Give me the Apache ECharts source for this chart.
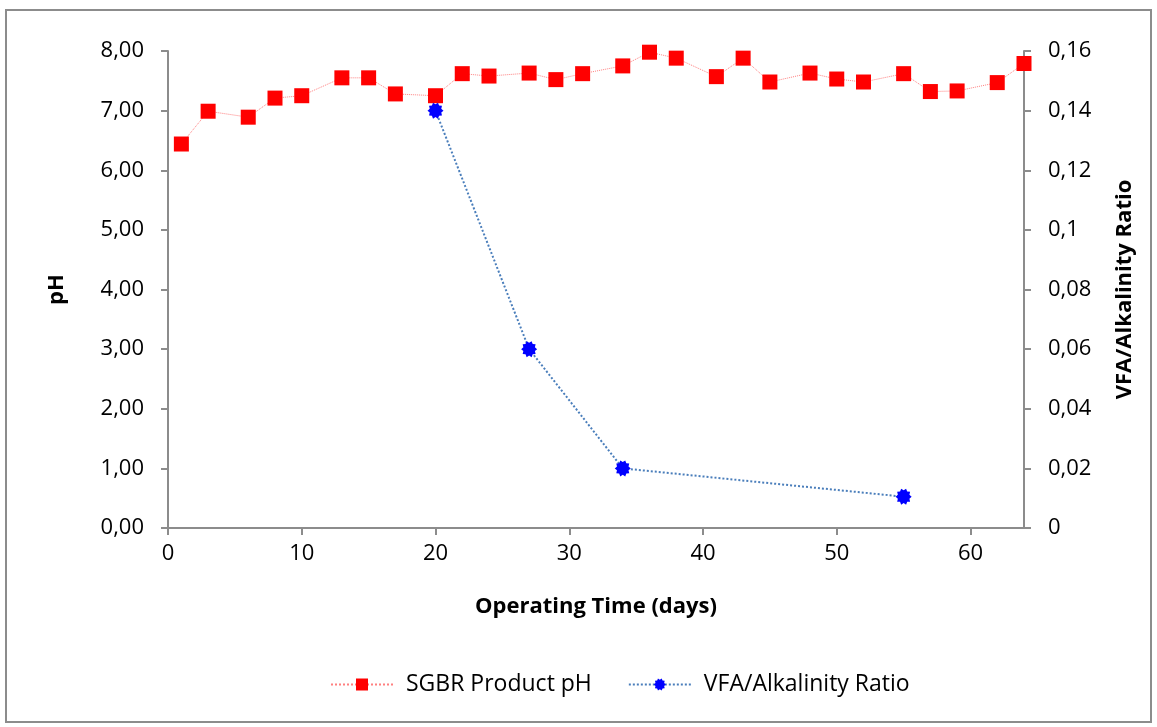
<!DOCTYPE html>
<html><head><meta charset="utf-8">
<script src="https://cdn.jsdelivr.net/npm/echarts@6/dist/echarts.min.js"></script>
<style>html,body{margin:0;padding:0;background:#fff}#c{width:1157px;height:727px}</style>
</head><body><div id="c"></div>
<script>
const phDays = [1,3,6,8,10,13,15,17,20,22,24,27,29,31,34,36,38,41,43,45,48,50,52,55,57,59,62,64];
const phValues = [6.44,6.99,6.89,7.21,7.25,7.55,7.55,7.28,7.25,7.62,7.58,7.63,7.52,7.62,7.75,7.98,7.88,7.57,7.88,7.48,7.63,7.53,7.48,7.62,7.32,7.33,7.47,7.79];
const vfaDays = [20,27,34,55];
const vfaValues = [0.14,0.06,0.02,0.0105];
const xTicks = {min:0, max:64, interval:10};
const leftTicks = {min:0, max:8, interval:1};
const rightTicks = {min:0, max:0.16, interval:0.02};

const FONT = '"Open Sans", "Liberation Sans", sans-serif';
const gear = (function(){
  let pts=[]; const n=10;
  for(let i=0;i<n*2;i++){const r=i%2?7.6:10; const a=Math.PI*i/n; pts.push((10+r*Math.cos(a)).toFixed(2)+' '+(10+r*Math.sin(a)).toFixed(2));}
  return 'path://M'+pts.join(' L')+' Z';
})();

const chart = echarts.init(document.getElementById('c'));
chart.setOption({
  animation:false,
  backgroundColor:'#fff',
  graphic:[{type:'rect',shape:{x:6,y:10,width:1145,height:712},style:{fill:'none',stroke:'#8c8c8c',lineWidth:2},silent:true}],
  grid:{left:168,right:133,top:51,bottom:199},
  legend:{
    bottom:26,left:325,itemWidth:62,itemHeight:15,itemGap:36,
    textStyle:{fontFamily:FONT,fontSize:23,color:'#000',padding:[0,0,0,8]},
    data:['SGBR Product pH','VFA/Alkalinity Ratio']
  },
  xAxis:{
    type:'value',min:xTicks.min,max:xTicks.max,interval:xTicks.interval,
    name:'Operating Time (days)',nameLocation:'middle',nameGap:68,
    nameTextStyle:{fontFamily:FONT,fontSize:22,fontWeight:'bold',color:'#000'},
    axisLine:{show:true,lineStyle:{color:'#8c8c8c',width:2}},
    axisTick:{show:true,length:7,lineStyle:{color:'#8c8c8c',width:2}},
    axisLabel:{fontFamily:FONT,fontSize:22,color:'#000',margin:15,showMaxLabel:false},
    splitLine:{show:false}
  },
  yAxis:[{
    type:'value',min:leftTicks.min,max:leftTicks.max,interval:leftTicks.interval,position:'left',
    name:'pH',nameLocation:'middle',nameGap:100,nameRotate:90,
    nameTextStyle:{fontFamily:FONT,fontSize:22,fontWeight:'bold',color:'#000'},
    axisLine:{show:true,lineStyle:{color:'#8c8c8c',width:2}},
    axisTick:{show:true,length:7,lineStyle:{color:'#8c8c8c',width:2}},
    axisLabel:{fontFamily:FONT,fontSize:22,color:'#000',margin:24,formatter:v=>v.toFixed(2).replace('.',',')},
    splitLine:{show:false}
  },{
    type:'value',min:rightTicks.min,max:rightTicks.max,interval:rightTicks.interval,position:'right',
    name:'VFA/Alkalinity Ratio',nameLocation:'middle',nameGap:90,nameRotate:90,
    nameTextStyle:{fontFamily:FONT,fontSize:22,fontWeight:'bold',color:'#000'},
    axisLine:{show:true,lineStyle:{color:'#8c8c8c',width:2}},
    axisTick:{show:true,length:7,lineStyle:{color:'#8c8c8c',width:2}},
    axisLabel:{fontFamily:FONT,fontSize:22,color:'#000',margin:24,formatter:v=>String(Number(v.toFixed(2))).replace('.',',')},
    splitLine:{show:false}
  }],
  series:[{
    name:'SGBR Product pH',type:'line',yAxisIndex:0,
    data:phDays.map((d,i)=>[d,phValues[i]]),
    symbol:'rect',symbolSize:15,
    itemStyle:{color:'#ff0000'},
    lineStyle:{color:'#ff8080',width:1,type:'dotted'}
  },{
    name:'VFA/Alkalinity Ratio',type:'line',yAxisIndex:1,
    data:vfaDays.map((d,i)=>[d,vfaValues[i]]),
    symbol:gear,symbolSize:16,
    itemStyle:{color:'#0000ff'},
    lineStyle:{color:'#4a7ebb',width:2,type:'dotted'}
  }]
});
</script></body></html>
